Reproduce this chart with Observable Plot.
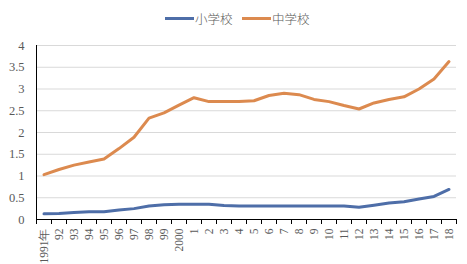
<!DOCTYPE html>
<html>
<head>
<meta charset="utf-8">
<script src="https://cdn.jsdelivr.net/npm/d3@7"></script>
<script src="https://cdn.jsdelivr.net/npm/@observablehq/plot@0.6"></script>
<style>
  body { margin: 0; background: #fff; width: 467px; height: 264px; overflow: hidden; }
  #legend { height: 30px; position: relative; font-family: "Liberation Serif", "Noto Sans CJK JP", serif; font-size: 12.5px; color: #595959; }
  .item { position: absolute; top: 9px; display: flex; align-items: center; }
  .sw { display: inline-block; width: 29px; height: 3px; margin-right: 1px; }
  .lab { font-family: "Noto Sans CJK JP", sans-serif; font-weight: 300; }
</style>
</head>
<body>
<div id="legend"></div>
<div id="chart"></div>
<script>
const years = ["1991年","92","93","94","95","96","97","98","99","2000","1","2","3","4","5","6","7","8","9","10","11","12","13","14","15","16","17","18"];
const seriesNames = ["小学校", "中学校"];
const colors = ["#4e6ea8", "#dc8a4f"];
const elementary = [0.13,0.14,0.16,0.18,0.18,0.22,0.25,0.31,0.34,0.35,0.35,0.35,0.32,0.31,0.31,0.31,0.31,0.31,0.31,0.31,0.31,0.28,0.33,0.38,0.41,0.47,0.53,0.69];
const junior = [1.03,1.15,1.25,1.32,1.39,1.63,1.89,2.33,2.45,2.63,2.80,2.71,2.71,2.71,2.73,2.85,2.90,2.87,2.76,2.71,2.62,2.54,2.68,2.76,2.82,3.00,3.23,3.63];
const yTicks = [0, 0.5, 1, 1.5, 2, 2.5, 3, 3.5, 4];

const legend = document.getElementById("legend");
const lefts = [165, 242];
seriesNames.forEach((n, i) => {
  const d = document.createElement("div");
  d.className = "item";
  d.style.left = lefts[i] + "px";
  d.innerHTML = `<span class="sw" style="background:${colors[i]}"></span><span class="lab">${n}</span>`;
  legend.appendChild(d);
});

const data = [];
years.forEach((y, i) => {
  data.push({i: i + 0.5, v: elementary[i], s: seriesNames[0]});
  data.push({i: i + 0.5, v: junior[i], s: seriesNames[1]});
});
const bounds = d3.range(0, years.length + 1);
const centers = years.map((y, i) => ({i: i + 0.5, label: y}));

const chart = Plot.plot({
  width: 467,
  height: 234,
  marginTop: 15,
  marginBottom: 45,
  marginLeft: 36,
  marginRight: 11,
  style: {fontFamily: "Liberation Serif, serif", color: "#595959", background: "#fff"},
  x: {type: "linear", domain: [0, years.length], axis: null},
  y: {type: "linear", domain: [0, 4], axis: null},
  color: {domain: seriesNames, range: colors},
  marks: [
    Plot.ruleY(yTicks.filter(d => d > 0), {stroke: "#d9d9d9", strokeWidth: 1}),
    Plot.text(yTicks, {x: 0, y: d => d, text: d => String(d), dx: -12, textAnchor: "end", fontSize: 12.5, fill: "#595959"}),
    Plot.line(data, {x: "i", y: "v", z: "s", stroke: "s", strokeWidth: 3, strokeLinejoin: "round"}),
    Plot.ruleX([0], {y1: 0, y2: 4, stroke: "#000", strokeWidth: 1}),
    Plot.ruleY([0], {stroke: "#000", strokeWidth: 1.2}),
    Plot.ruleX(bounds, {x: d => d, y1: 0, y2: -0.115, stroke: "#000", strokeWidth: 1}),
    Plot.text(centers, {x: "i", y: 0, text: "label", rotate: -90, textAnchor: "end", dy: 9, fontSize: 11.5, fill: "#595959"})
  ]
});
document.getElementById("chart").appendChild(chart);
</script>
</body>
</html>
